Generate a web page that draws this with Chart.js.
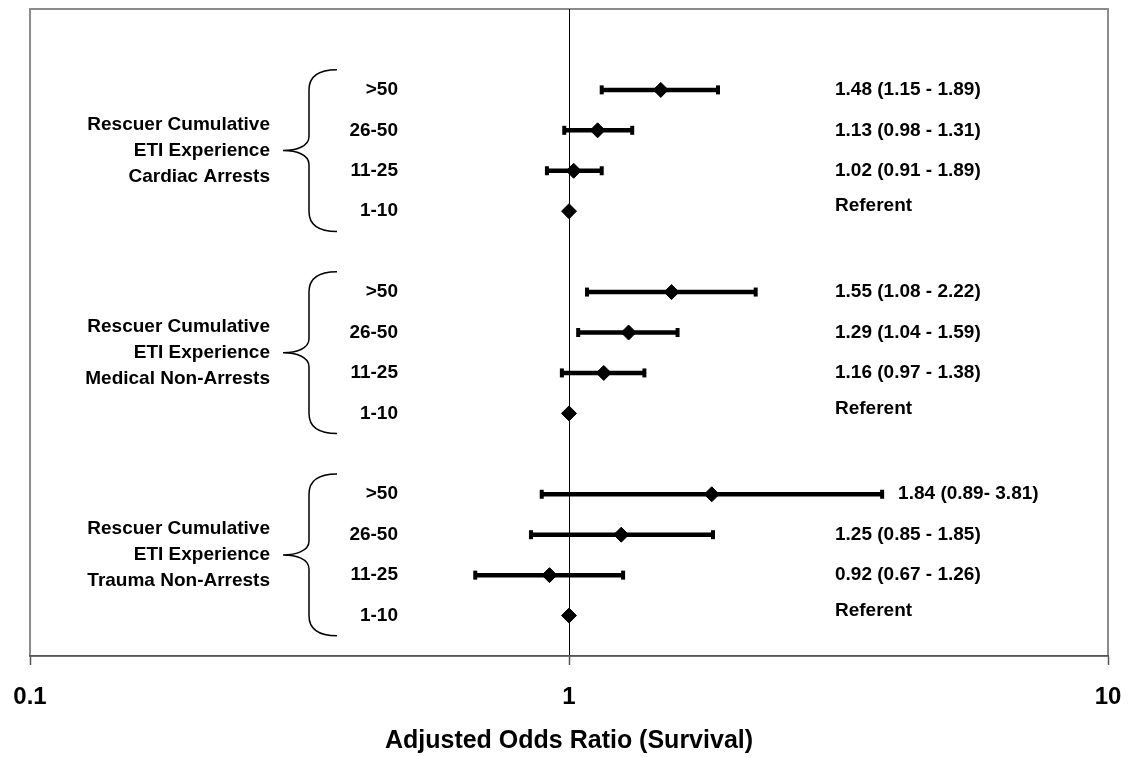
<!DOCTYPE html>
<html>
<head>
<meta charset="utf-8">
<script src="https://cdn.jsdelivr.net/npm/chart.js@4.4.0/dist/chart.umd.min.js"></script>
<style>
  html, body { margin: 0; padding: 0; background: #fff; }
  #wrap { width: 1134px; height: 757px; position: relative; }
</style>
</head>
<body>
<div id="wrap"><canvas id="forest"></canvas></div>
<script>
const groupNames = ['Cardiac Arrests', 'Medical Non-Arrests', 'Trauma Non-Arrests'];
const groupPrefix = ['Rescuer Cumulative', 'ETI Experience'];
const categories = ['>50', '26-50', '11-25', '1-10'];

// adjusted odds ratios, rows in category order (1-10 is the referent)
const oddsCardiac = [1.48, 1.13, 1.02, 1];
const oddsMedical = [1.55, 1.29, 1.16, 1];
const oddsTrauma = [1.84, 1.25, 0.92, 1];

const lowerCardiac = [1.15, 0.98, 0.91, null];
const lowerMedical = [1.08, 1.04, 0.97, null];
const lowerTrauma = [0.89, 0.85, 0.67, null];

// the 11-25 cardiac bar stops near 1.15 even though its label prints 1.89
const upperCardiac = [1.89, 1.31, 1.15, null];
const upperMedical = [2.22, 1.59, 1.38, null];
const upperTrauma = [3.81, 1.85, 1.26, null];

const labelsCardiac = ['1.48 (1.15 - 1.89)', '1.13 (0.98 - 1.31)', '1.02 (0.91 - 1.89)', 'Referent'];
const labelsMedical = ['1.55 (1.08 - 2.22)', '1.29 (1.04 - 1.59)', '1.16 (0.97 - 1.38)', 'Referent'];
const labelsTrauma = ['1.84 (0.89- 3.81)', '1.25 (0.85 - 1.85)', '0.92 (0.67 - 1.26)', 'Referent'];

const xTicks = [0.1, 1, 10];

const odds = [oddsCardiac, oddsMedical, oddsTrauma];
const lower = [lowerCardiac, lowerMedical, lowerTrauma];
const upper = [upperCardiac, upperMedical, upperTrauma];
const valueLabels = [labelsCardiac, labelsMedical, labelsTrauma];

// each group takes 4 rows plus one blank row
const rowOf = (g, i) => g * 5 + i;

const FONT = '"Liberation Sans", Arial, sans-serif';

const points = [];
odds.forEach((arr, g) => arr.forEach((v, i) => points.push({ x: v, y: rowOf(g, i) })));

const bars = [];
lower.forEach((arr, g) => arr.forEach((lo, i) => {
  if (lo == null) return;
  bars.push({
    data: [{ x: lo, y: rowOf(g, i) }, { x: upper[g][i], y: rowOf(g, i) }],
    showLine: true,
    borderColor: '#000',
    borderWidth: 4.5,
    pointStyle: 'line',
    pointRotation: 90,
    pointRadius: 4.5,
    pointBorderWidth: 4,
    pointBorderColor: '#000',
    order: 1
  });
}));

const boxPlugin = {
  id: 'box',
  beforeDraw(chart) {
    const { ctx, chartArea: a } = chart;
    ctx.save();
    ctx.strokeStyle = '#8c8c8c';
    ctx.lineWidth = 2;
    ctx.strokeRect(a.left, a.top, a.right - a.left, a.bottom - a.top);
    ctx.restore();
  }
};

function drawBrace(ctx, top, bot) {
  const mid = (top + bot) / 2;
  const tipX = 283, stemX = 309, endX = 337;
  ctx.beginPath();
  ctx.moveTo(endX, top);
  ctx.quadraticCurveTo(stemX, top, stemX, top + 20);
  ctx.lineTo(stemX, mid - 14);
  ctx.bezierCurveTo(stemX, mid - 4, 296, mid, tipX, mid);
  ctx.bezierCurveTo(296, mid, stemX, mid + 4, stemX, mid + 14);
  ctx.lineTo(stemX, bot - 20);
  ctx.quadraticCurveTo(stemX, bot, endX, bot);
  ctx.stroke();
}

const textPlugin = {
  id: 'forestText',
  afterDatasetsDraw(chart) {
    const { ctx, scales: { x, y } } = chart;
    ctx.save();
    ctx.fillStyle = '#000';
    ctx.strokeStyle = '#000';
    ctx.lineWidth = 1.5;
    ctx.font = 'bold 19px ' + FONT;
    ctx.textBaseline = 'middle';
    groupNames.forEach((name, g) => {
      const top = y.getPixelForValue(rowOf(g, 0) - 0.5);
      const bot = y.getPixelForValue(rowOf(g, 3) + 0.5);
      const mid = (top + bot) / 2;

      ctx.textAlign = 'right';
      categories.forEach((c, i) => ctx.fillText(c, 398, y.getPixelForValue(rowOf(g, i))));
      [...groupPrefix, name].forEach((line, k) => ctx.fillText(line, 270, mid + (k - 1) * 26));

      drawBrace(ctx, top, bot);

      ctx.textAlign = 'left';
      valueLabels[g].forEach((t, i) => {
        let px = 835;
        if (upper[g][i] != null) px = Math.max(px, x.getPixelForValue(upper[g][i]) + 16);
        const py = y.getPixelForValue(rowOf(g, i)) - (upper[g][i] == null ? 5 : 0);
        ctx.fillText(t, px, py);
      });
    });
    ctx.restore();
  }
};

new Chart(document.getElementById('forest'), {
  type: 'scatter',
  data: {
    datasets: [{
      data: points,
      pointStyle: 'rectRot',
      pointRadius: 7.5,
      pointBackgroundColor: '#000',
      pointBorderColor: '#000',
      pointBorderWidth: 1,
      order: 0
    }, ...bars]
  },
  options: {
    responsive: true,
    maintainAspectRatio: false,
    animation: false,
    layout: { padding: { left: 30, right: 26, top: 9, bottom: 1 } },
    plugins: {
      legend: { display: false },
      tooltip: { enabled: false }
    },
    scales: {
      x: {
        type: 'logarithmic',
        min: 0.1,
        max: 10,
        afterBuildTicks: (axis) => { axis.ticks = xTicks.map(v => ({ value: v })); },
        // tick labels fit inside the layout padding; fixed axis band height
        afterFit: (axis) => { axis.paddingLeft = 0; axis.paddingRight = 0; axis.height = 100; },
        ticks: {
          callback: (v) => String(v),
          color: '#000',
          font: { family: FONT, size: 24, weight: 'bold' },
          padding: 18,
          autoSkip: false,
          maxRotation: 0
        },
        grid: {
          color: (c) => (c.tick && c.tick.value === 1 ? '#000' : 'rgba(0,0,0,0)'),
          lineWidth: 1,
          tickLength: 9,
          tickColor: '#555',
          tickWidth: 1.5
        },
        border: { color: '#555', width: 1.5 },
        title: {
          display: true,
          text: 'Adjusted Odds Ratio (Survival)',
          color: '#000',
          font: { family: FONT, size: 25, weight: 'bold' },
          padding: { top: 0, bottom: 0 }
        }
      },
      y: {
        display: false,
        min: -2,
        max: 14,
        reverse: true
      }
    }
  },
  plugins: [boxPlugin, textPlugin]
});
</script>
</body>
</html>
